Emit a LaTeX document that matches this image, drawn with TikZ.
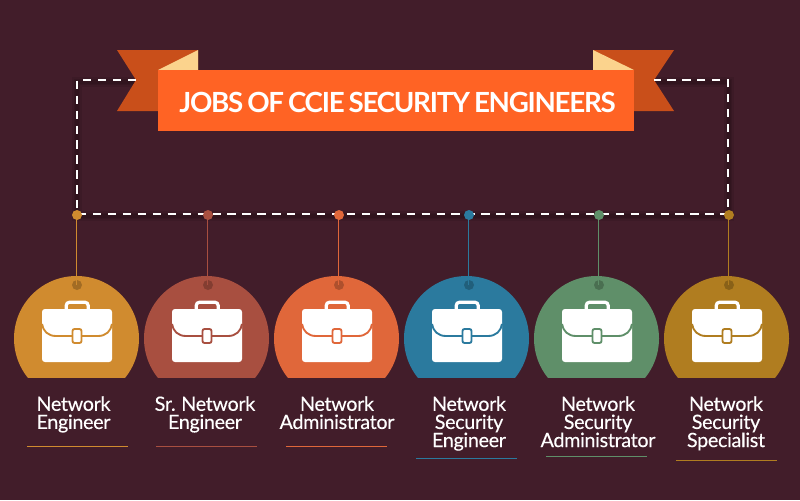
\documentclass[tikz,border=0pt]{standalone}
\usepackage{fontspec}
\setmainfont{Lato}
\newfontfamily\titlefont[LetterSpace=-4.6,WordSpace=0.72,BoldFont={Lato Bold}]{Lato}
\newfontfamily\labelfont[LetterSpace=-1.6,WordSpace=0.85,FakeBold=0.25]{Lato}
\definecolor{bg}{HTML}{421D2A}
\definecolor{banner}{HTML}{FF6324}
\definecolor{ribbon}{HTML}{C94F1A}
\definecolor{fold}{HTML}{FBD38D}
\definecolor{cA}{HTML}{D08B2F}
\definecolor{cB}{HTML}{A84F40}
\definecolor{cC}{HTML}{E0673A}
\definecolor{cD}{HTML}{2B7A9E}
\definecolor{cE}{HTML}{5F8F69}
\definecolor{cF}{HTML}{B07D20}
\tikzset{
  x=0.75pt,y=-0.75pt,
  dashline/.style={draw=white,line width=1.7pt,dash pattern=on 6.2pt off 5pt},
  shadowline/.style={draw=black,line width=#1,opacity=0.09},
  joblabel/.style={text=white,font=\labelfont\fontsize{14.8pt}{13.6pt}\selectfont,align=center,anchor=north,inner sep=0pt},
  titletext/.style={text=white,font=\titlefont\fontsize{20.8pt}{24pt}\selectfont\bfseries,inner sep=0pt}
}
\newcommand{\shadowpath}{(77,82) rectangle (729,216)}
\begin{document}
\begin{tikzpicture}
\useasboundingbox (0,0) rectangle (800,500);
\fill[bg] (0,0) rectangle (800,500);
% dashed frame shadow
\foreach \w in {7pt,5pt,3pt}{\draw[shadowline=\w] \shadowpath;}
% ribbons
\fill[ribbon] (117,50) -- (198,50) -- (198,111) -- (117,111) -- (136,80) -- cycle;
\fill[ribbon] (674,50) -- (593,50) -- (593,111) -- (674,111) -- (654,80) -- cycle;
\fill[fold] (198,50) -- (158,70) -- (198,70) -- cycle;
\fill[fold] (593,50) -- (634,70) -- (593,70) -- cycle;
% dashed frame
\coordinate (tl) at (77,80);
\coordinate (tr) at (728,80);
\coordinate (br) at (728,214);
\coordinate (bl) at (77,214);
\draw[dashline] (136,80) -- (tl) -- (bl) -- (br) -- (tr) -- (654,80);
% banner
\node[fill=banner,minimum width=357pt,minimum height=45.75pt,inner sep=0pt,anchor=north west] (title) at (158,70) {};
\node[titletext] (titletxt) at (397.5,102.5) {JOBS OF CCIE SECURITY ENGINEERS};
% jobs
\foreach \n/\dx/\cx/\col/\lx/\ux/\uy/\txt in {
  a/77/76.5/cA/73.5/77.5/446/{Network\\Engineer},
  b/208/206.5/cB/205/206.5/446/{Sr. Network\\Engineer},
  c/339/336.5/cC/337/336.5/446/{Network\\Administrator},
  d/469/466.5/cD/469/466.5/458/{Network\\Security\\Engineer},
  e/599/596.5/cE/598/596.5/456/{Network\\Security\\Administrator},
  f/729/726.5/cF/726/726.5/460/{Network\\Security\\Specialist}}{
  \begin{scope}
    \clip (\cx-70,270) rectangle (\cx+70,377);
    \fill[\col] (\cx,338.5) circle[radius=62.5];
  \end{scope}
  \node[circle,fill=\col,minimum size=7.5pt,inner sep=0pt] (top\n) at (\dx,215) {};
  \node[circle,fill=black,fill opacity=0.22,minimum size=7.5pt,inner sep=0pt] (low\n) at (\dx,285) {};
  \coordinate (lineA\n) at (\dx-0.5,215);
  \coordinate (lineB\n) at (\dx-0.5,285);
  \draw[\col,line width=0.75pt] (lineA\n) -- (lineB\n);
  % briefcase
  \begin{scope}[shift={(\cx-76.5,0)}]
    \draw[white,line width=2.4pt,rounded corners=2.5pt] (66.2,309) -- (66.2,302.2) -- (88.2,302.2) -- (88.2,309);
    \fill[white,rounded corners=2.2pt] (42,309) rectangle (112,362);
    \draw[\col,line width=1.4pt] (42,324) .. controls (43,331) and (48,336) .. (56,336) -- (98,336) .. controls (106,336) and (111,331) .. (112,324);
    \fill[white,draw=\col,line width=1.4pt,rounded corners=1.5pt] (72.5,329) rectangle (81.5,343);
  \end{scope}
  \node[joblabel] (lab\n) at (\lx,396) {\txt};
  \coordinate (ua\n) at (\ux-50.5,\uy);
  \coordinate (ub\n) at (\ux+50.5,\uy);
  \draw[\col,line width=0.75pt] (ua\n) -- (ub\n);
}
\end{tikzpicture}
\end{document}
